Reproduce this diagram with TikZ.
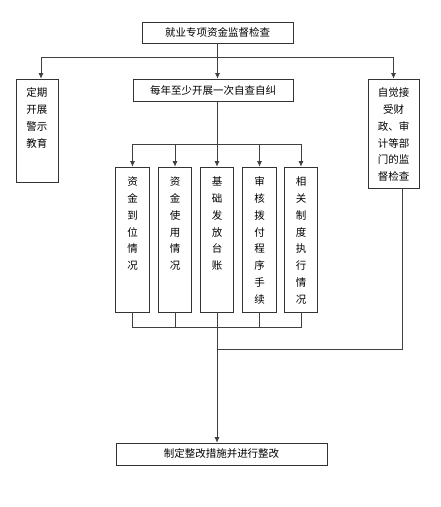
\documentclass[tikz,border=0pt]{standalone}
\usepackage{fontspec}
\newfontfamily\cjk{Noto Sans CJK SC}
\usetikzlibrary{arrows.meta,positioning}

\begin{document}
\begin{tikzpicture}[x=1pt, y=-1pt,
 box/.style={draw=black!80, line width=0.7pt, inner sep=0pt},
 vtext/.style={inner sep=0pt, align=center, font=\cjk\fontsize{10.5}{16.8}\selectfont},
 arr/.style={draw=black!75, line width=0.7pt, -{Latex[length=5.5pt,width=5pt]}},
 conn/.style={draw=black!75, line width=0.7pt},
 font=\cjk\fontsize{10.5}{13}\selectfont]
 \useasboundingbox (0,0) rectangle (440,507);

 % Top level
 \node[box, minimum width=151, minimum height=21] (top) at (217.5,32.5) {就业专项资金监督检查};
 \node[box, minimum width=160, minimum height=22] (self) at (213,90) {每年至少开展一次自查自纠};
 \node[box, minimum width=42, minimum height=103] (warn) at (37,130.5) {};
 \node[vtext, below=9pt of warn.north] (warn-t) {定期\\开展\\警示\\教育};
 \node[box, minimum width=51, minimum height=109] (audit) at (393.5,133.5) {};
 \node[vtext, below=9pt of audit.north] (audit-t) {自觉接\\受财\\政、审\\计等部\\门的监\\督检查};

 % Self-check items
 \foreach \i/\x/\txt in {1/132.5/{资\\金\\到\\位\\情\\况},
                        2/175/{资\\金\\使\\用\\情\\况},
                        3/217/{基\\础\\发\\放\\台\\账},
                        4/259.5/{审\\核\\拨\\付\\程\\序\\手\\续},
                        5/301/{相\\关\\制\\度\\执\\行\\情\\况}} {
 \node[box, minimum width=33.5, minimum height=145] (c\i) at (\x,239.5) {};
 \node[vtext, below=10pt of c\i.north] (c\i-t) {\txt};
 }

 % Result
 \node[box, minimum width=211, minimum height=22] (fix) at (221.5,454) {制定整改措施并进行整改};

 % Branches from the top
 \coordinate (hub) at (217.5,57);
 \draw[arr] (top.south) -- (top.south |- self.north);
 \draw[arr] (hub) -| ([xshift=4pt]warn.north);
 \draw[arr] (hub) -| (audit.north);

 % Fan out to the items
 \coordinate (fan) at (217,144.5);
 \draw[arr] (self.south -| c3.north) -- (c3.north);
 \foreach \i in {1,2,4,5} \draw[arr] (fan) -| (c\i.north);

 % Gather and lead to the result
 \coordinate (join) at (217,327);
 \foreach \i in {1,2,4,5} \draw[conn] (c\i.south) |- (join);
 \draw[arr] (c3.south) -- (c3.south |- fix.north);
 \draw[conn] ([xshift=8.5pt]audit.south) |- (217,349);
\end{tikzpicture}
\end{document}
